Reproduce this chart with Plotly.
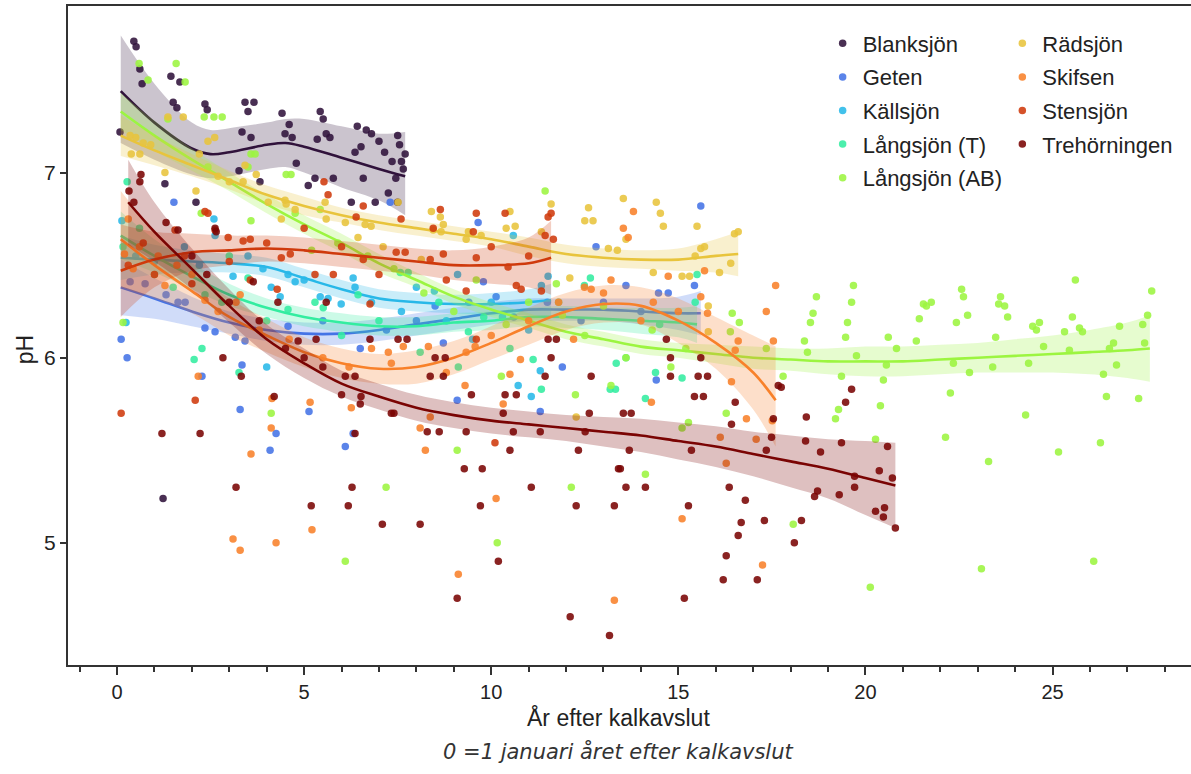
import plotly.graph_objects as go

# ---------------- series metadata ----------------
names = ["Blanksjön", "Geten", "Källsjön", "Långsjön (T)", "Långsjön (AB)",
         "Rädsjön", "Skifsen", "Stensjön", "Trehörningen"]
colors = ["#30123b", "#4473e6", "#28b8e8", "#33eda0", "#9cf540",
          "#e8c43c", "#f8812a", "#cf3a0c", "#7a0403"]
legend_of = ["legend", "legend", "legend", "legend", "legend",
             "legend2", "legend2", "legend2", "legend2"]

# ---------------- observations ----------------
blank_x = [0.08, 0.45, 0.51, 0.61, 0.67, 1.44, 1.68, 1.5, 1.6, 2.35, 2.41, 3.42, 3.66, 3.5, 4.41, 4.6, 4.49, 4.68,
           3.34, 3.58, 5.43, 5.51, 5.59, 5.69, 5.35, 6.42, 6.66, 6.52, 6.36, 4.79, 3.26, 3.82, 5.11, 5.29, 5.78,
           6.58, 6.26, 2.11, 1.28, 1.23, 6.8, 7.0, 7.15, 7.35, 7.5, 7.55, 7.7, 7.65, 7.45, 7.25, 7.5, 6.9, 7.6]
blank_y = [7.22, 7.71, 7.68, 7.56, 7.48, 7.52, 7.49, 7.38, 7.35, 7.37, 7.34, 7.38, 7.38, 7.33, 7.32, 7.26, 7.21, 7.19,
           7.22, 7.19, 7.33, 7.29, 7.21, 7.19, 7.18, 7.25, 7.23, 7.14, 7.11, 7.05, 7.01, 6.95, 6.93, 6.97, 6.97,
           6.97, 6.84, 6.84, 6.94, 5.24, 7.21, 7.17, 7.11, 7.06, 7.2, 7.15, 7.1, 7.02, 6.97, 6.89, 6.84, 6.84, 7.06]

geten_x = [0.11, 0.27, 2.27, 3.34, 3.29, 4.25, 4.09, 5.13, 6.1, 6.31, 2.35, 2.62, 3.16, 3.42, 4.57, 7.3, 9.65, 10.13,
           9.79, 13.6, 14.47, 14.41, 9.09, 11.31, 8.72, 15.6, 15.43, 14.73, 1.52, 0.35, 0.75, 1.63, 1.82, 1.31, 5.5,
           6.5, 7.2, 8.0, 8.5, 9.4, 10.6, 11.5, 12.4, 13.0, 14.0, 12.8, 11.9]
geten_y = [6.1, 6.0, 5.9, 5.96, 5.72, 5.59, 5.5, 5.71, 5.52, 5.59, 6.16, 6.14, 6.11, 6.09, 6.17, 6.84, 6.73, 6.33,
           6.41, 6.39, 6.35, 5.88, 5.77, 5.71, 6.08, 6.82, 6.39, 6.35, 6.84, 6.41, 6.4, 6.3, 6.3, 6.34, 6.2,
           6.05, 6.15, 6.2, 6.28, 6.3, 6.22, 6.3, 6.2, 6.3, 6.25, 6.6, 5.95]

kall_x = [0.13, 0.24, 2.59, 2.62, 3.1, 4.12, 4.36, 4.57, 4.76, 5.43, 5.64, 5.99, 6.36, 6.31, 10.59, 10.72, 11.07,
          11.31, 11.52, 8.48, 11.34, 0.5, 1.0, 1.8, 2.2, 3.5, 3.9, 5.0, 6.8, 7.6, 8.0, 8.8, 9.5, 10.0, 10.3, 11.0,
          4.0, 9.1]
kall_y = [6.74, 6.19, 6.75, 6.66, 6.44, 6.38, 6.33, 6.45, 6.41, 6.33, 6.32, 6.29, 6.38, 6.43, 6.66, 5.85, 5.79,
          5.93, 6.44, 6.36, 6.39, 6.55, 6.52, 6.6, 6.5, 6.55, 6.48, 6.42, 6.3, 6.25, 6.38, 6.2, 6.1, 6.3, 6.22, 6.15,
          5.95, 6.45]

langt_x = [0.27, 0.16, 3.5, 4.57, 5.29, 5.51, 6.44, 2.35, 2.27, 2.06, 3.26, 7.57, 7.78, 12.65, 12.49, 11.12, 11.34,
           13.18, 13.32, 14.12, 13.6, 13.34, 8.1, 9.12, 9.39, 15.5, 15.45, 15.1, 14.39, 1.0, 1.5, 2.8, 4.0, 6.0,
           7.0, 8.6, 9.8, 10.5, 11.8, 14.5, 3.0, 0.6]
langt_y = [6.95, 6.6, 6.43, 6.26, 6.3, 6.27, 6.34, 6.34, 6.05, 5.99, 5.92, 6.46, 6.46, 6.43, 6.39, 5.99, 5.83,
           5.83, 5.83, 5.78, 6.0, 5.97, 6.03, 5.95, 6.14, 6.45, 6.3, 5.89, 5.92, 6.45, 6.38, 6.3, 6.2, 6.12,
           6.2, 6.3, 6.22, 6.05, 6.3, 6.18, 6.55, 6.7]

langab_x = [0.59, 1.58, 0.83, 1.82, 2.33, 2.59, 2.81, 1.36, 3.58, 3.69, 4.52, 4.65, 2.43, 3.58, 5.43, 4.76, 3.5, 0.16,
            2.25, 11.44, 11.74, 10.27, 12.25, 4.12, 6.1, 9.09, 7.19, 12.14, 10.16, 14.12, 16.28, 15.27, 15.1, 18.07,
            20.13, 20.27, 20.4, 19.2, 19.28, 16.44, 16.63, 16.39, 17.35, 17.8, 19.36, 19.76, 20.48, 20.56, 20.61,
            20.83, 18.37, 18.45, 18.53, 18.6, 18.69, 19.68, 19.63, 19.52, 19.47, 21.36, 21.44, 21.55, 21.63, 21.76,
            22.43, 22.57, 22.62, 22.73, 22.35, 22.78, 22.27, 22.14, 23.29, 23.1, 23.61, 23.56, 23.72, 23.8, 23.48,
            23.4, 24.28, 24.47, 24.57, 24.65, 24.36, 24.76, 25.61, 25.53, 25.32, 25.72, 25.8, 25.45, 25.16, 26.1,
            26.28, 26.44, 26.36, 26.52, 26.63, 26.71, 26.79, 27.3, 27.41, 27.46, 27.54, 27.65, 8.2, 9.0, 9.6, 10.4,
            11.0, 11.9, 12.5, 13.0, 13.6, 14.3, 14.8, 15.2, 7.4, 6.7, 5.9, 5.2, 13.2]
langab_y = [7.59, 7.59, 7.5, 7.49, 7.3, 7.3, 7.3, 7.29, 7.1, 7.1, 6.99, 6.99, 7.03, 6.74, 6.8, 6.78, 7.03, 6.19,
            6.78, 6.9, 6.4, 5.9, 5.8, 5.7, 4.9, 5.5, 5.3, 5.3, 5.0, 5.37, 5.7, 5.65, 5.62, 5.1,
            4.76, 5.56, 5.74, 5.67, 5.72, 6.24, 6.19, 6.14, 6.05, 5.9, 5.9, 6.01, 5.88, 5.96, 6.11,
            6.05, 6.09, 6.03, 6.19, 6.24, 6.33, 6.39, 6.3, 6.19, 6.11, 6.09, 6.21, 6.29, 6.28, 6.3,
            6.19, 6.37, 6.33, 6.23, 5.97, 5.92, 5.81, 5.57, 5.44, 4.86, 6.33, 6.29, 6.28, 6.22, 6.11,
            5.95, 5.69, 6.17, 6.15, 6.19, 5.97, 6.06, 6.42, 6.22, 6.14, 6.16, 6.14, 6.04, 5.49, 4.9,
            5.54, 5.79, 5.91, 6.05, 6.08, 5.96, 6.17, 5.78, 6.18, 6.08, 6.23, 6.36, 6.35, 6.25, 6.42, 6.18,
            6.3, 6.23, 6.12, 6.28, 6.0, 6.15, 5.95, 6.05, 6.48, 6.55, 6.62, 6.58, 5.85]

rad_x = [1.36, 1.77, 0.35, 0.5, 0.61, 0.38, 1.28, 2.11, 2.43, 2.61, 3.42, 3.37, 3.72, 4.04, 4.49, 4.52, 4.39, 4.76,
         5.59, 5.56, 6.1, 6.44, 6.63, 8.4, 8.64, 8.72, 9.39, 9.73, 10.4, 10.64, 10.5, 11.34, 11.6, 12.6, 12.5, 12.72,
         13.53, 13.13, 13.37, 13.6, 14.41, 14.52, 14.6, 14.33, 12.1, 8.45, 8.66, 7.51, 6.79, 7.11, 8.13, 9.33, 15.5,
         16.5, 16.6, 15.6, 15.7, 15.45, 16.4, 16.1, 15.1, 15.3, 15.8, 15.8, 0.7, 0.9, 2.2, 2.7, 3.0, 12.27]
rad_y = [7.3, 7.3, 7.2, 7.19, 7.1, 7.1, 7.0, 6.9, 7.17, 7.19, 7.04, 6.95, 6.99, 6.84, 6.85, 6.83, 6.75, 6.8,
         6.75, 6.84, 6.73, 6.65, 6.72, 6.79, 6.76, 6.72, 6.68, 6.66, 6.7, 6.71, 6.79, 6.68, 6.83, 6.81, 6.74, 6.74,
         6.86, 6.59, 6.58, 6.64, 6.84, 6.78, 6.71, 6.46, 6.43, 6.69, 6.68, 6.84, 6.71, 6.6, 6.53, 6.64, 6.71,
         6.67, 6.68, 6.59, 6.6, 6.55, 6.51, 6.46, 6.44, 6.44, 6.28, 6.14, 7.16, 7.15, 7.1, 6.98, 6.95, 5.68]

skif_x = [2.17, 3.58, 3.1, 3.29, 4.25, 5.16, 6.26, 5.21, 4.14, 4.12, 8.37, 8.1, 8.24, 10.13, 9.12, 13.29, 10.32,
          14.28, 16.82, 17.08, 16.12, 16.28, 15.1, 17.25, 17.51, 17.6, 17.35, 17.54, 16.6, 16.52, 15.78, 15.6,
          16.42, 14.73, 15.7, 13.66, 13.8, 13.53, 12.49, 12.67, 14.33, 10.78, 10.5, 8.32, 7.65, 7.25, 7.33, 9.33,
          9.57, 9.3, 1.28, 3.29, 2.35, 3.18, 0.2, 0.43, 0.3, 0.6, 1.1, 1.6, 2.0, 2.7, 3.8, 4.6, 5.5, 6.2, 6.8,
          8.8, 10.0, 11.0, 11.8, 13.0, 14.0, 15.0, 12.2, 13.2]
skif_y = [5.9, 5.48, 5.02, 4.96, 5.0, 5.76, 5.73, 5.07, 5.78, 5.62, 5.68, 5.62, 5.5, 5.24, 4.83, 4.69, 5.75,
          5.76, 5.67, 5.56, 5.57, 5.43, 5.13, 4.88, 5.66, 6.39, 6.25, 6.09, 6.09, 6.04, 6.24, 6.33,
          5.87, 6.44, 6.47, 6.65, 6.79, 6.7, 6.38, 6.37, 6.3, 5.99, 5.91, 6.06, 6.06, 6.03, 5.97, 6.03,
          6.06, 5.85, 6.39, 6.34, 6.31, 6.3, 6.56, 6.48, 6.75, 6.6, 6.55, 6.5, 6.45, 6.25, 6.15, 6.1, 6.0, 5.95, 6.05,
          5.92, 6.12, 6.2, 6.3, 6.35, 6.2, 6.25, 6.1, 6.42]

sten_x = [2.35, 2.43, 2.62, 2.97, 3.37, 3.56, 4.39, 4.63, 5.53, 5.64, 6.39, 6.58, 6.58, 5.29, 5.78, 4.28, 3.56,
          1.55, 8.64, 8.45, 9.6, 10.37, 11.6, 11.52, 11.66, 11.44, 9.52, 7.46, 7.7, 8.37, 8.72, 9.6, 10.45, 10.67,
          10.8, 11.34, 9.33, 8.8, 7.59, 6.76, 9.6, 0.11, 2.09, 10.1, 0.3, 0.7, 1.0, 1.8, 2.0, 3.0, 4.0, 5.0, 6.0,
          7.0, 10.0, 11.0]
sten_y = [6.79, 6.78, 6.69, 6.65, 6.63, 6.64, 6.54, 6.56, 6.95, 6.88, 6.76, 6.82, 6.53, 6.45, 6.45, 6.37, 6.42,
          6.69, 6.8, 6.7, 6.78, 6.78, 6.78, 6.76, 6.64, 6.66, 6.68, 6.57, 6.57, 6.53, 6.56, 6.54, 6.49, 6.39,
          6.37, 6.36, 6.36, 6.42, 6.75, 6.29, 6.1, 5.7, 5.77, 5.54, 6.5, 6.62, 6.45, 6.55, 6.4, 6.52, 6.62, 6.7, 6.6,
          6.45, 6.6, 6.55]

treh_x = [0.64, 0.32, 0.45, 0.61, 1.63, 1.31, 2.62, 2.65, 3.64, 5.59, 4.3, 2.83, 3.32, 4.2, 1.2, 2.22, 3.18, 5.19,
          6.18, 6.28, 6.36, 6.52, 6.36, 6.1, 4.84, 5.32, 7.33, 7.4, 8.29, 8.61, 9.33, 10.32, 10.59, 11.31, 12.51,
          12.62, 13.53, 13.74, 10.5, 12.33, 13.69, 9.28, 9.76, 13.4, 13.45, 11.07, 13.6, 14.12, 9.71, 12.27, 13.29,
          7.09, 8.1, 10.19, 9.09, 12.11, 13.16, 16.52, 18.42, 19.47, 16.42, 15.35, 17.35, 18.4, 18.8, 19.36, 20.59,
          20.37, 20.72, 19.71, 19.71, 18.72, 18.64, 19.3, 20.27, 20.51, 20.48, 20.8, 16.36, 16.79, 15.27, 16.68,
          16.6, 17.3, 18.29, 18.1, 16.28, 16.2, 17.11, 15.16, 17.49, 17.67, 17.75, 17.54, 19.63, 15.53, 15.78,
          15.43, 15.67, 14.79, 14.79, 15.6, 7.51, 7.75, 6.76, 8.37, 8.72, 11.44, 11.6, 12.67, 11.52, 11.74, 10.37,
          10.67, 9.47, 14.68, 2.0, 2.4, 3.0, 3.8, 4.5, 5.0, 5.5, 6.0, 6.5, 8.5, 8.77]
treh_y = [6.99, 6.9, 6.84, 6.95, 6.69, 6.73, 6.7, 6.68, 6.41, 6.3, 6.3, 6.0, 5.9, 5.79, 5.59, 5.59, 5.3, 5.2,
          5.2, 5.3, 5.59, 5.79, 5.9, 5.9, 6.09, 6.1, 5.7, 5.7, 5.6, 5.6, 5.6, 5.7, 5.6, 5.6, 5.6,
          5.7, 5.7, 5.7, 5.5, 5.5, 5.5, 5.4, 5.4, 5.4, 5.4, 5.3, 5.3, 5.3, 5.2, 5.2, 5.2,
          5.1, 5.1, 4.9, 4.7, 4.6, 4.5, 5.76, 5.68, 5.76, 5.64, 5.5, 5.5, 5.55, 5.49, 5.54, 5.52,
          5.39, 5.35, 5.36, 5.3, 5.28, 5.25, 5.26, 5.17, 5.19, 5.14, 5.08, 5.3, 5.23, 5.2, 5.11,
          5.04, 5.12, 5.12, 5.0, 4.93, 4.8, 4.8, 4.7, 5.57, 5.85, 5.84, 5.67, 5.83, 5.9, 5.9,
          5.79, 5.79, 5.9, 6.0, 6.0, 6.1, 6.1, 6.1, 5.9, 5.9, 5.9, 6.0, 5.9, 6.1, 6.1, 5.8,
          5.8, 5.8, 6.1, 6.55, 6.45, 6.3, 6.2, 6.05, 6.0, 5.95, 5.8, 5.75, 6.0, 6.0]

# ---------------- smoothed fits with confidence bands ----------------
blank_fx = [0.1, 1, 2, 2.5, 3, 4, 4.5, 5, 6, 7, 7.7]
blank_fy = [7.44, 7.27, 7.13, 7.10, 7.11, 7.15, 7.16, 7.14, 7.08, 7.02, 6.98]
blank_hi = [7.74, 7.48, 7.27, 7.23, 7.24, 7.27, 7.29, 7.29, 7.25, 7.21, 7.22]
blank_lo = [7.16, 7.07, 6.99, 6.97, 6.98, 7.02, 7.03, 7.0, 6.92, 6.85, 6.77]

geten_fx = [0.1, 1, 2, 3, 4, 5, 6, 7, 8, 9, 10, 11, 12, 13, 14, 15, 15.6]
geten_fy = [6.38, 6.32, 6.25, 6.19, 6.15, 6.13, 6.13, 6.15, 6.18, 6.21, 6.24, 6.26, 6.26, 6.26, 6.25, 6.24, 6.24]
geten_hi = [6.53, 6.43, 6.33, 6.25, 6.21, 6.19, 6.19, 6.21, 6.24, 6.27, 6.3, 6.32, 6.32, 6.32, 6.32, 6.33, 6.36]
geten_lo = [6.23, 6.21, 6.17, 6.13, 6.09, 6.07, 6.07, 6.09, 6.12, 6.15, 6.18, 6.2, 6.2, 6.2, 6.18, 6.15, 6.12]

kall_fx = [0.1, 1, 2, 3, 4, 5, 6, 7, 8, 9, 10, 11, 11.6]
kall_fy = [6.54, 6.53, 6.52, 6.51, 6.49, 6.43, 6.37, 6.32, 6.3, 6.29, 6.29, 6.3, 6.31]
kall_hi = [6.66, 6.61, 6.58, 6.56, 6.54, 6.48, 6.42, 6.37, 6.35, 6.34, 6.35, 6.37, 6.40]
kall_lo = [6.42, 6.45, 6.46, 6.46, 6.44, 6.38, 6.32, 6.27, 6.25, 6.24, 6.23, 6.23, 6.22]

langt_fx = [0.1, 1, 2, 3, 4, 5, 6, 7, 8, 9, 10, 11, 12, 13, 14, 15, 15.5]
langt_fy = [6.66, 6.55, 6.44, 6.34, 6.27, 6.22, 6.19, 6.17, 6.17, 6.19, 6.2, 6.22, 6.22, 6.21, 6.2, 6.19, 6.18]
langt_hi = [6.79, 6.64, 6.51, 6.40, 6.32, 6.27, 6.24, 6.22, 6.22, 6.24, 6.25, 6.27, 6.28, 6.27, 6.27, 6.27, 6.28]
langt_lo = [6.53, 6.46, 6.37, 6.28, 6.22, 6.17, 6.14, 6.12, 6.12, 6.14, 6.15, 6.17, 6.16, 6.15, 6.13, 6.11, 6.08]

langab_fx = [0.1, 1, 2, 3, 4, 5, 6, 7, 8, 9, 10, 11, 12, 13, 14, 15, 16, 17, 18, 19, 20, 21, 22, 23, 24, 25, 26,
             27, 27.6]
langab_fy = [7.33, 7.2, 7.07, 6.95, 6.83, 6.72, 6.62, 6.51, 6.42, 6.33, 6.26, 6.2, 6.14, 6.1, 6.06, 6.04, 6.02,
             6.0, 5.99, 5.98, 5.98, 5.98, 5.99, 6.0, 6.01, 6.02, 6.03, 6.04, 6.05]
langab_hi = [7.43, 7.28, 7.13, 7.0, 6.88, 6.77, 6.67, 6.56, 6.46, 6.37, 6.30, 6.24, 6.18, 6.14, 6.10, 6.08, 6.07,
             6.06, 6.05, 6.05, 6.06, 6.06, 6.07, 6.08, 6.10, 6.12, 6.15, 6.19, 6.23]
langab_lo = [7.23, 7.12, 7.01, 6.90, 6.78, 6.67, 6.57, 6.46, 6.38, 6.29, 6.22, 6.16, 6.10, 6.06, 6.02, 6.0, 5.97,
             5.94, 5.93, 5.91, 5.90, 5.90, 5.91, 5.92, 5.92, 5.92, 5.91, 5.89, 5.87]

rad_fx = [0.1, 1, 2, 3, 4, 5, 6, 7, 8, 9, 10, 11, 12, 13, 14, 15, 16, 16.6]
rad_fy = [7.2, 7.12, 7.04, 6.96, 6.88, 6.82, 6.77, 6.73, 6.7, 6.67, 6.64, 6.6, 6.56, 6.54, 6.53, 6.53, 6.55, 6.56]
rad_hi = [7.31, 7.20, 7.10, 7.01, 6.93, 6.87, 6.81, 6.77, 6.74, 6.71, 6.68, 6.65, 6.61, 6.59, 6.58, 6.59, 6.64, 6.68]
rad_lo = [7.09, 7.04, 6.98, 6.91, 6.83, 6.77, 6.73, 6.69, 6.66, 6.63, 6.60, 6.55, 6.51, 6.49, 6.48, 6.47, 6.46, 6.44]

skif_fx = [0.1, 1, 2, 3, 4, 5, 6, 7, 8, 9, 10, 11, 12, 13, 14, 15, 16, 17, 17.6]
skif_fy = [6.64, 6.5, 6.36, 6.22, 6.12, 6.03, 5.97, 5.94, 5.95, 6.0, 6.08, 6.17, 6.25, 6.29, 6.28, 6.2, 6.08, 5.92,
           5.77]
skif_hi = [6.90, 6.68, 6.48, 6.32, 6.21, 6.11, 6.05, 6.02, 6.04, 6.09, 6.17, 6.27, 6.35, 6.39, 6.38, 6.32, 6.22,
           6.12, 6.06]
skif_lo = [6.38, 6.32, 6.24, 6.12, 6.03, 5.95, 5.89, 5.86, 5.86, 5.91, 5.99, 6.07, 6.15, 6.19, 6.18, 6.08, 5.94,
           5.72, 5.52]

sten_fx = [0.1, 1, 2, 3, 4, 5, 6, 7, 8, 9, 10, 11, 11.6]
sten_fy = [6.47, 6.53, 6.57, 6.58, 6.59, 6.58, 6.56, 6.54, 6.52, 6.5, 6.5, 6.51, 6.54]
sten_hi = [6.72, 6.68, 6.67, 6.66, 6.66, 6.65, 6.63, 6.61, 6.59, 6.58, 6.6, 6.65, 6.74]
sten_lo = [6.22, 6.38, 6.47, 6.50, 6.52, 6.51, 6.49, 6.47, 6.45, 6.42, 6.4, 6.38, 6.34]

treh_fx = [0.3, 1, 2, 3, 4, 5, 6, 7, 8, 9, 10, 11, 12, 13, 14, 15, 16, 17, 18, 19, 20, 20.8]
treh_fy = [6.84, 6.68, 6.48, 6.28, 6.1, 5.97, 5.86, 5.79, 5.73, 5.69, 5.66, 5.64, 5.62, 5.6, 5.58, 5.55, 5.52,
           5.48, 5.44, 5.4, 5.35, 5.31]
treh_hi = [7.07, 6.84, 6.59, 6.37, 6.18, 6.05, 5.93, 5.86, 5.80, 5.76, 5.73, 5.71, 5.69, 5.68, 5.67, 5.65, 5.63,
           5.60, 5.58, 5.56, 5.55, 5.54]
treh_lo = [6.61, 6.52, 6.37, 6.19, 6.02, 5.89, 5.79, 5.72, 5.66, 5.62, 5.59, 5.57, 5.55, 5.52, 5.49, 5.45, 5.41,
           5.36, 5.30, 5.24, 5.15, 5.08]

x_ticks = [0, 5, 10, 15, 20, 25]
y_ticks = [5, 6, 7]

points = [(blank_x, blank_y), (geten_x, geten_y), (kall_x, kall_y), (langt_x, langt_y), (langab_x, langab_y),
          (rad_x, rad_y), (skif_x, skif_y), (sten_x, sten_y), (treh_x, treh_y)]
fits = [(blank_fx, blank_fy, blank_lo, blank_hi), (geten_fx, geten_fy, geten_lo, geten_hi),
        (kall_fx, kall_fy, kall_lo, kall_hi), (langt_fx, langt_fy, langt_lo, langt_hi),
        (langab_fx, langab_fy, langab_lo, langab_hi), (rad_fx, rad_fy, rad_lo, rad_hi),
        (skif_fx, skif_fy, skif_lo, skif_hi), (sten_fx, sten_fy, sten_lo, sten_hi),
        (treh_fx, treh_fy, treh_lo, treh_hi)]


def rgba(hex_color, a):
    h = hex_color.lstrip("#")
    r, g, b = int(h[0:2], 16), int(h[2:4], 16), int(h[4:6], 16)
    return f"rgba({r},{g},{b},{a})"


fig = go.Figure()
for name, col, leg, (px_, py_), (fx, fy, lo, hi) in zip(names, colors, legend_of, points, fits):
    fig.add_trace(go.Scatter(x=px_, y=py_, mode="markers", name=name, legend=leg, legendgroup=name,
                             marker=dict(size=7.5, color=col, opacity=0.88, line=dict(width=0))))
    fig.add_trace(go.Scatter(x=fx, y=lo, mode="lines", line=dict(width=0, shape="spline", color=col),
                             showlegend=False, legend=leg, legendgroup=name, hoverinfo="skip"))
    fig.add_trace(go.Scatter(x=fx, y=hi, mode="lines", line=dict(width=0, shape="spline", color=col),
                             fill="tonexty", fillcolor=rgba(col, 0.25),
                             showlegend=False, legend=leg, legendgroup=name, hoverinfo="skip"))
    fig.add_trace(go.Scatter(x=fx, y=fy, mode="lines", line=dict(width=2.6, shape="spline", color=col),
                             showlegend=False, legend=leg, legendgroup=name, hoverinfo="skip"))

font_family = "Liberation Sans"
axis_col = "#333333"
legend_common = dict(xanchor="left", yanchor="top", bgcolor="rgba(0,0,0,0)",
                     font=dict(size=22, family=font_family, color="#222222"),
                     tracegroupgap=2, itemsizing="trace")

fig.update_layout(
    width=1191, height=774,
    margin=dict(l=68, r=0, t=6, b=109),
    paper_bgcolor="white", plot_bgcolor="white",
    font=dict(family=font_family, color="#222222"),
    legend=dict(x=0.672, y=0.975, **legend_common),
    legend2=dict(x=0.832, y=0.975, **legend_common),
    xaxis=dict(range=[-1.31, 28.7], tickvals=x_ticks, ticks="outside", ticklen=8, tickwidth=2,
               tickcolor=axis_col, showline=True, linewidth=2, linecolor=axis_col, mirror=True,
               showgrid=False, zeroline=False, tickfont=dict(size=20, family=font_family, color="#222222"),
               minor=dict(dtick=1, tick0=0, ticks="outside", ticklen=5, tickwidth=1.5, tickcolor=axis_col,
                          showgrid=False)),
    yaxis=dict(range=[4.34, 7.9], tickvals=y_ticks, ticks="outside", ticklen=6, tickwidth=1.5,
               tickcolor=axis_col, showline=True, linewidth=2, linecolor=axis_col,
               showgrid=False, zeroline=False, tickfont=dict(size=21, family=font_family, color="#222222")),
    annotations=[
        dict(text="År efter kalkavslut", xref="paper", yref="paper", x=0.49, y=-0.08,
             xanchor="center", yanchor="middle", showarrow=False,
             font=dict(size=23, family=font_family, color="#222222")),
        dict(text="<i>0 =1 januari året efter kalkavslut</i>", xref="paper", yref="paper", x=0.49, y=-0.132,
             xanchor="center", yanchor="middle", showarrow=False,
             font=dict(size=21, family="DejaVu Sans", color="#333333")),
        dict(text="pH", xref="paper", yref="paper", x=-0.038, y=0.478, textangle=-90,
             xanchor="center", yanchor="middle", showarrow=False,
             font=dict(size=23, family=font_family, color="#222222")),
    ],
)

fig.write_html("out.html", config={"displayModeBar": False},
               post_script="document.body.style.margin='0';")
